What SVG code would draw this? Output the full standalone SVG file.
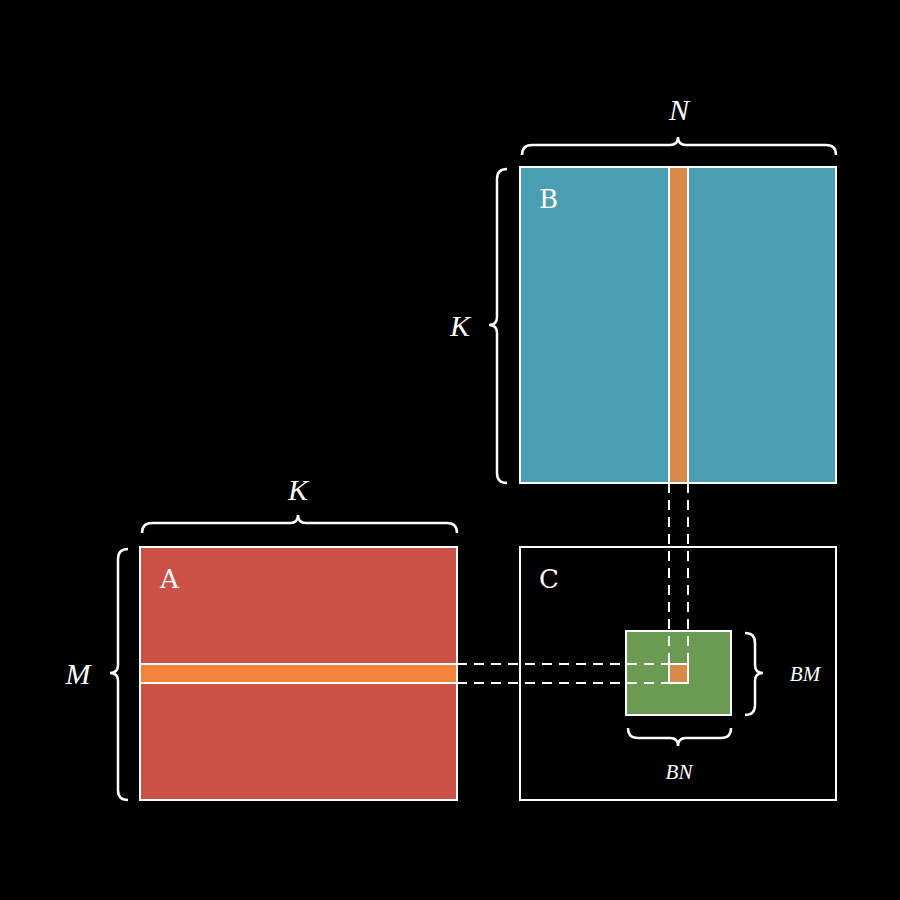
<svg xmlns="http://www.w3.org/2000/svg" width="900" height="900" viewBox="0 0 900 900">
<style>
.m{stroke:#fff;stroke-width:2}
.br{fill:none;stroke:#fff;stroke-width:2.5}
.d{fill:none;stroke:#fff;stroke-width:2;stroke-dasharray:10,7}
.lab{fill:#fff;font-family:"DejaVu Serif","Liberation Serif",serif;font-size:26px}
.it{fill:#fff;font-family:"Liberation Serif","DejaVu Serif",serif;font-style:italic;font-size:30px;text-anchor:middle}
.sit{fill:#fff;font-family:"Liberation Serif","DejaVu Serif",serif;font-style:italic;font-size:21px;text-anchor:middle}
</style>
<rect width="900" height="900" fill="#000"/>
<g id="B">
<rect x="520" y="167" width="316" height="316" fill="#4a9eb2" class="m"/>
<rect x="669" y="167" width="19" height="316" fill="#d98a48" class="m"/>
<text x="539" y="208" class="lab">B</text>
</g>
<g id="A">
<rect x="140" y="547" width="317" height="253" fill="#cb5146" class="m"/>
<rect x="140" y="664" width="317" height="19" fill="#f2843a" class="m"/>
<text x="160" y="588" class="lab">A</text>
</g>
<g id="C">
<rect x="520" y="547" width="316" height="253" fill="none" class="m"/>
<text x="539" y="588" class="lab">C</text>
</g>
<g id="Cblock">
<rect x="626" y="631" width="105" height="84" fill="#6b9b52" class="m"/>
<rect x="669" y="664" width="19" height="19" fill="#d98a48" class="m"/>
</g>
<g id="connectors">
<path class="d" d="M669,483 V664 M688,483 V664 M457,664 H669 M457,683 H669"/>
</g>
<g id="braces">
<path class="br" d="M522,155 Q522,145 532,145 L670,145 Q678,145 678,137 Q678,145 686,145 L826,145 Q836,145 836,155"/>
<path class="br" d="M507,169 Q497,169 497,179 L497,317 Q497,325 489,325 Q497,325 497,333 L497,473 Q497,483 507,483"/>
<path class="br" d="M142,533 Q142,523 152,523 L290,523 Q298,523 298,515 Q298,523 306,523 L447,523 Q457,523 457,533"/>
<path class="br" d="M128,549 Q118,549 118,559 L118,665 Q118,673 110,673 Q118,673 118,681 L118,790 Q118,800 128,800"/>
<path class="br" d="M745,633 Q755,633 755,643 L755,665 Q755,673 763,673 Q755,673 755,681 L755,705 Q755,715 745,715"/>
<path class="br" d="M628,728 Q628,738 638,738 L670,738 Q678,738 678,746 Q678,738 686,738 L721,738 Q731,738 731,728"/>
</g>
<g id="labels">
<text x="679" y="120" class="it">N</text>
<text x="460" y="336" class="it">K</text>
<text x="298" y="500" class="it">K</text>
<text x="78" y="684" class="it">M</text>
<text x="805" y="681" class="sit">BM</text>
<text x="679" y="779" class="sit">BN</text>
</g>
</svg>
